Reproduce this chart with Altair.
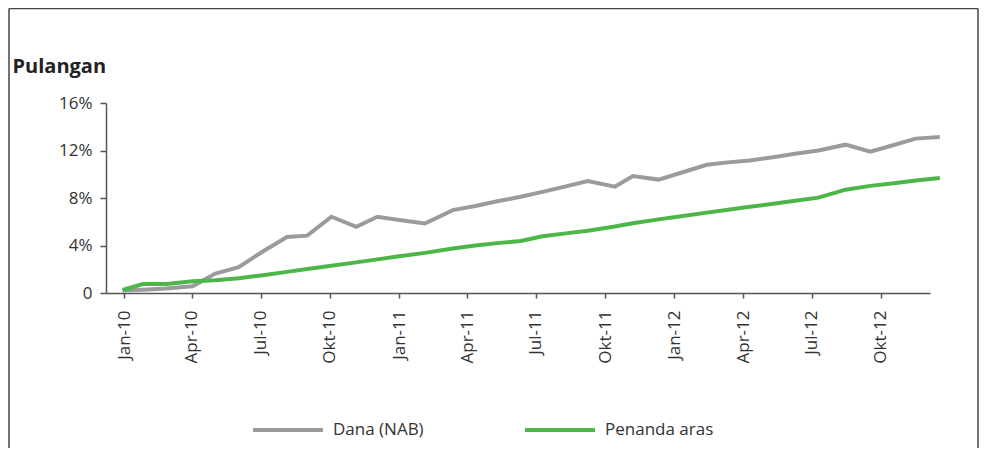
import altair as alt
import pandas as pd

# ---- data ----
tarikh = ["2009-12-30", "2010-01-26", "2010-02-26", "2010-04-02", "2010-05-02", "2010-06-02",
          "2010-07-04", "2010-08-05", "2010-09-01", "2010-10-03", "2010-11-05", "2010-12-03",
          "2011-01-01", "2011-02-04", "2011-03-13", "2011-04-12", "2011-05-11", "2011-06-11",
          "2011-07-10", "2011-08-10", "2011-09-08", "2011-10-14", "2011-11-07", "2011-12-11",
          "2012-01-12", "2012-02-13", "2012-03-12", "2012-04-10", "2012-05-11", "2012-06-09",
          "2012-07-10", "2012-08-15", "2012-09-17", "2012-10-18", "2012-11-16", "2012-12-18"]

dana_nab = [0.20, 0.27, 0.37, 0.57, 1.64, 2.18, 3.49, 4.72, 4.83, 6.42, 5.57, 6.42,
            6.15, 5.85, 6.98, 7.33, 7.72, 8.10, 8.52, 8.98, 9.42, 8.95, 9.85, 9.55,
            10.17, 10.80, 11.00, 11.16, 11.44, 11.72, 12.00, 12.49, 11.90, 12.46, 13.00, 13.14]

penanda_aras = [0.25, 0.76, 0.76, 0.99, 1.07, 1.24, 1.50, 1.78, 2.02, 2.30, 2.58, 2.83,
                3.10, 3.38, 3.74, 4.00, 4.20, 4.38, 4.78, 5.02, 5.25, 5.60, 5.88, 6.20,
                6.48, 6.77, 7.01, 7.26, 7.52, 7.77, 8.03, 8.70, 9.02, 9.25, 9.48, 9.69]

siri_nama = ["Dana (NAB)", "Penanda aras"]
siri_warna = ["#9b9b9d", "#4cb748"]

y_ticks = [0, 4, 8, 12, 16]
x_tick_months = [(2010, 1), (2010, 4), (2010, 7), (2010, 10),
                 (2011, 1), (2011, 4), (2011, 7), (2011, 10),
                 (2012, 1), (2012, 4), (2012, 7), (2012, 10)]
bulan = ["Jan", "Feb", "Mac", "Apr", "Mei", "Jun", "Jul", "Ogo", "Sep", "Okt", "Nov", "Dis"]

rows = []
for d, a, b in zip(tarikh, dana_nab, penanda_aras):
    rows.append({"tarikh": d, "siri": siri_nama[0], "nilai": a})
    rows.append({"tarikh": d, "siri": siri_nama[1], "nilai": b})
df = pd.DataFrame(rows)

FONT = "Open Sans"
TXT = "#333333"
AX = "#555555"

W, H = 824, 190

x_values = [alt.DateTime(year=y, month=m, date=1, utc=True) for y, m in x_tick_months]
month_arr = "[" + ",".join("'" + b + "'" for b in bulan) + "]"

lines = alt.Chart(df).mark_line(strokeWidth=4, strokeCap="butt", strokeJoin="miter").encode(
    x=alt.X("tarikh:T",
            scale=alt.Scale(type="utc",
                            domain=[alt.DateTime(year=2009, month=12, date=8, utc=True),
                                    alt.DateTime(year=2012, month=12, date=5, utc=True)]),
            axis=alt.Axis(values=x_values, labelAngle=270, labelPadding=12,
                          labelExpr=month_arr + "[utcmonth(datum.value)] + '-' + utcFormat(datum.value, '%y')",
                          tickSize=5, title=None, grid=False)),
    y=alt.Y("nilai:Q",
            scale=alt.Scale(domain=[0, 16], nice=False),
            axis=alt.Axis(values=y_ticks, tickSize=6, labelPadding=8, grid=False,
                          labelExpr="datum.value == 0 ? '0' : datum.value + '%'",
                          title="Pulangan", titleAngle=0, titleAlign="left",
                          titleBaseline="alphabetic", titleX=-94, titleY=-31,
                          titleFontSize=20, titleFontWeight="bold", titleFont=FONT,
                          titleColor="#222222")),
    color=alt.Color("siri:N",
                    scale=alt.Scale(domain=siri_nama, range=siri_warna),
                    sort=siri_nama,
                    legend=alt.Legend(title=None, orient="none", direction="horizontal",
                                      legendX=145, legendY=290, padding=0,
                                      symbolType="stroke", symbolSize=4900,
                                      symbolStrokeWidth=4, labelOffset=8,
                                      columnPadding=93, labelFontSize=17,
                                      labelFont=FONT, labelColor=TXT)),
)

frame_df = pd.DataFrame({"k": [0]})
top_line = alt.Chart(frame_df).mark_rule(color="#444444", strokeWidth=1.5).encode(
    x=alt.value(-97), x2=alt.value(872), y=alt.value(-94.5))
left_line = alt.Chart(frame_df).mark_rule(color="#444444", strokeWidth=1.5).encode(
    x=alt.value(-97), y=alt.value(-94.5), y2=alt.value(345))
right_line = alt.Chart(frame_df).mark_rule(color="#444444", strokeWidth=1.5).encode(
    x=alt.value(872), y=alt.value(-94.5), y2=alt.value(345))

chart = alt.layer(top_line, left_line, right_line, lines).properties(
    width=W, height=H,
    autosize=alt.AutoSizeParams(type="none"),
    padding={"left": 98, "top": 95, "right": 50, "bottom": 155},
).configure_view(strokeWidth=0).configure_axis(
    labelFont=FONT, labelFontSize=17, labelColor=TXT,
    domainColor=AX, domainWidth=1.5, tickColor=AX, tickWidth=1.5,
)

chart.save("out.html", embed_options={"renderer": "svg", "actions": False})
